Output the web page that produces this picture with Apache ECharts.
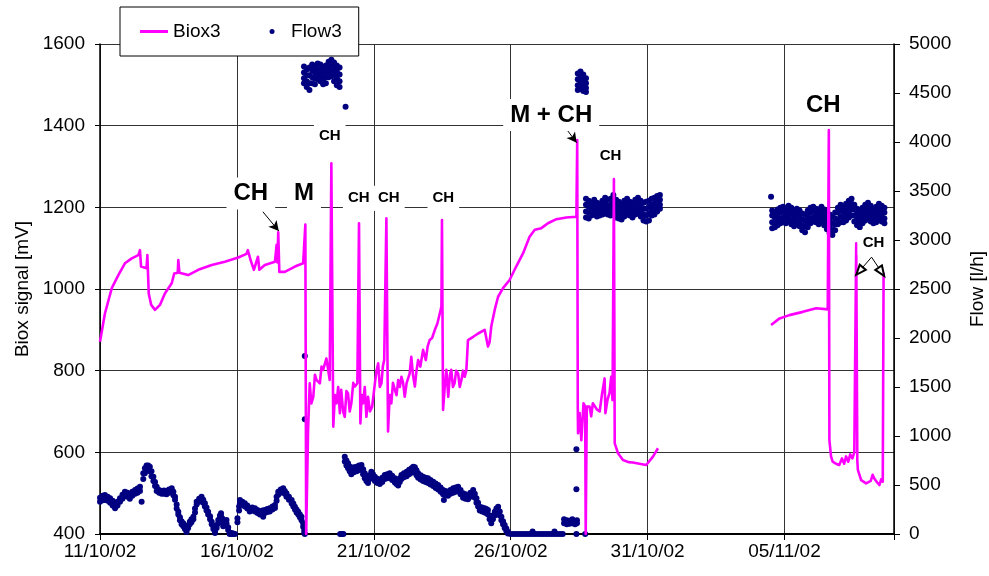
<!DOCTYPE html>
<html>
<head>
<meta charset="utf-8">
<title>Biox3 / Flow3</title>
<script src="https://cdn.jsdelivr.net/npm/echarts@6/dist/echarts.min.js"></script>
<style>
    html, body { margin: 0; padding: 0; background: #fff; }
    #chart { width: 989px; height: 576px; }
</style>
</head>
<body>
<div id="chart"></div>
<script>
// x values are days counted from 11/10/02 00:00
var dateLabels = ['11/10/02', '16/10/02', '21/10/02', '26/10/02', '31/10/02', '05/11/02'];

// Biox3 signal [mV], first measuring period
var bioxPart1 = [
    [0,871],[0.18,940],[0.43,1002],[0.67,1034],[0.91,1063],[1.16,1075],[1.40,1083],[1.46,1095],[1.50,1055],[1.70,1051],
    [1.73,1083],[1.78,989],[1.87,961],[2.01,949],[2.19,961],[2.37,989],[2.62,1014],[2.71,1038],[2.84,1040],[2.86,1071],
    [2.90,1040],[3.22,1034],[3.59,1047],[4.08,1059],[4.56,1067],[5.05,1077],[5.35,1086],[5.40,1095],[5.50,1071],[5.62,1047],
    [5.77,1079],[5.82,1047],[6.02,1059],[6.39,1067],[6.45,1108],[6.48,1065],[6.51,1139],[6.55,1042],[6.75,1042],[7.12,1055],
    [7.42,1063],[7.48,1063],[7.50,1158],[7.53,400],[7.56,400],[7.60,654],[7.66,769],[7.72,720],[7.79,736],[7.85,790],
    [7.91,777],[8.03,769],[8.09,810],[8.15,802],[8.27,830],[8.33,834],[8.39,777],[8.45,1308],[8.52,663],[8.58,740],
    [8.64,720],[8.70,760],[8.76,696],[8.81,753],[8.88,700],[8.94,687],[9.00,750],[9.06,744],[9.12,700],[9.18,720],
    [9.25,770],[9.31,761],[9.40,769],[9.46,1161],[9.51,671],[9.56,740],[9.61,720],[9.67,760],[9.73,687],[9.79,736],
    [9.86,700],[9.94,712],[10.04,769],[10.10,800],[10.16,818],[10.22,760],[10.28,769],[10.33,810],[10.38,826],[10.46,1173],
    [10.52,651],[10.58,740],[10.64,720],[10.70,770],[10.77,753],[10.83,740],[10.89,777],[10.95,760],[11.01,785],[11.07,770],
    [11.13,736],[11.20,770],[11.31,793],[11.37,834],[11.43,790],[11.50,761],[11.56,800],[11.62,826],[11.70,810],[11.80,851],
    [11.90,826],[11.97,860],[12.04,875],[12.13,880],[12.23,900],[12.32,915],[12.41,940],[12.47,957],[12.49,1169],[12.53,704],
    [12.59,760],[12.65,802],[12.72,736],[12.78,790],[12.83,802],[12.89,760],[12.95,769],[13.01,800],[13.08,793],[13.14,760],
    [13.20,777],[13.26,800],[13.32,785],[13.38,800],[13.44,875],[13.63,883],[13.81,891],[14.05,900],[14.12,898],[14.17,859],
    [14.23,870],[14.29,908],[14.42,950],[14.54,981],[14.72,1002],[14.96,1022],[15.20,1055],[15.45,1087],[15.69,1128],[15.88,1145],
    [16.12,1149],[16.36,1161],[16.67,1171],[17.03,1175],[17.40,1177],[17.43,1365],[17.45,712],[17.46,647],[17.52,696],[17.58,630],
    [17.66,720],[17.72,712],[17.74,400],[17.76,400],[17.78,712],[17.88,712],[17.94,688],[18.00,720],[18.07,724],[18.15,705],
    [18.25,700],[18.33,740],[18.43,781],[18.46,696],[18.54,730],[18.61,745],[18.67,785],[18.72,728],[18.77,1269],[18.80,622],
    [18.92,598],[19.10,581],[19.30,576],[19.46,575],[19.70,572],[19.95,569],[20.19,589],[20.38,610]
];

// Biox3 signal [mV], second measuring period
var bioxPart2 = [
    [24.51,912],[24.82,928],[25.18,936],[25.67,944],[26.16,953],[26.58,950],[26.62,1389],[26.64,630],[26.70,590],[26.76,577],
    [26.88,572],[27.00,569],[27.10,585],[27.18,572],[27.25,590],[27.33,577],[27.40,595],[27.48,585],[27.55,600],[27.62,1112],
    [27.66,580],[27.68,557],[27.80,532],[27.98,524],[28.15,530],[28.22,545],[28.28,536],[28.40,525],[28.47,520],[28.53,534],
    [28.59,528],[28.62,1040]
];

// Flow3 [l/h]: each row is [day, reading, reading, ...]
var flowRowsLow1 = [
    [0.00,370,330],[0.10,390,345],[0.18,398,347],[0.28,380,340],[0.37,364,320],[0.46,340,290],[0.55,296,262],[0.64,330,290],
    [0.73,364,330],[0.82,400,360],[0.91,432,390],[1.00,420,380],[1.09,398,360],[1.18,430,390],[1.28,449,410],[1.37,465,420],
    [1.46,483,440],[1.52,330],[1.58,619,560],[1.64,670,620],[1.70,700,650],[1.76,700,660],[1.82,687,640],[1.88,640,590],
    [1.95,585,540],[2.01,530,490],[2.07,483,440],[2.16,450,420],[2.25,440,410],[2.34,445,410],[2.43,440,405],[2.52,455,420],
    [2.62,466,430],[2.68,430,395],[2.74,381,350],[2.80,300,260],[2.86,228,200],[2.92,170,140],[2.98,130,100],[3.04,109,80],
    [3.10,75,50],[3.16,41,20],[3.22,90,60],[3.28,126,100],[3.34,150,120],[3.41,177,150],[3.47,260,220],[3.53,330,300],
    [3.62,360,330],[3.71,381,350],[3.77,350,320],[3.83,313,280],[3.89,270,240],[3.95,228,200],[4.02,180,150],[4.08,126,100],
    [4.14,80,50],[4.20,24,10],[4.26,90,60],[4.32,143,110],[4.38,190,160],[4.42,211,180],[4.46,160,130],[4.50,109,80],
    [4.56,130,100],[4.62,143,110],[4.68,70,40],[4.74,7,0],[4.80,10,0],[4.87,5,0],[4.93,0],[5.02,160,120],
    [5.08,280,240],[5.11,347,310],[5.20,330,300],[5.29,313,280],[5.38,290,260],[5.47,262,230],[5.56,270,240],[5.66,262,230],
    [5.75,245,215],[5.84,228,200],[5.93,240,210],[5.96,177],[6.02,245,215],[6.11,255,225],[6.20,262,230],[6.30,280,250],
    [6.39,296,265],[6.45,380,340],[6.51,432,400],[6.60,455,420],[6.69,466,430],[6.75,440,410],[6.81,415,380],[6.90,380,350],
    [7.00,347,310],[7.06,310,280],[7.12,279,250],[7.18,250,220],[7.24,228,200],[7.30,200,170],[7.36,177,140],[7.42,110,75],
    [7.46,40,14],[7.48,1816,1170,0]
];

var flowRowsHigh1 = [
    [7.45,4770,4710,4650,4600],[7.55,4740,4680,4620,4560],[7.65,4760,4680,4600,4530],[7.75,4790,4730,4660,4600],
    [7.85,4770,4710,4650,4590],[7.95,4800,4740,4690,4640],[8.05,4790,4730,4670,4620],[8.15,4760,4700,4640,4590],
    [8.25,4780,4720,4660,4600],[8.35,4820,4760,4710,4660],[8.45,4840,4780,4720,4670],[8.55,4810,4740,4680,4620],
    [8.65,4780,4720,4650,4580],[8.75,4760,4690,4620,4560],[8.97,4360]
];

var flowRowsLow2 = [
    [8.77,0],[8.83,0],[8.89,0],
    [8.94,789,740],[9.00,750,700],[9.06,721,670],[9.12,690,640],[9.18,653,610],[9.27,680,630],[9.37,687,640],[9.46,700,650],
    [9.55,704,660],[9.61,660,610],[9.67,619,570],[9.73,590,540],[9.79,568,520],[9.85,600,560],[9.91,636,590],[9.97,610,570],
    [10.04,585,540],[10.13,565,520],[10.22,551,510],[10.31,575,530],[10.40,602,560],[10.49,610,570],[10.58,619,575],[10.67,595,550],
    [10.77,568,525],[10.83,550,510],[10.89,534,495],[10.95,570,530],[11.01,602,560],[11.10,620,580],[11.20,636,590],[11.29,655,610],
    [11.38,670,625],[11.44,687,640],[11.50,680,630],[11.56,650,600],[11.62,619,575],[11.71,600,555],[11.80,585,540],[11.89,575,530],
    [11.98,568,520],[12.07,550,505],[12.17,534,490],[12.26,515,470],[12.35,500,455],[12.44,475,430],[12.53,449,405],[12.56,347],
    [12.62,440,400],[12.71,432,390],[12.80,450,410],[12.90,466,420],[12.99,475,430],[13.08,483,440],[13.17,450,405],[13.26,415,370],
    [13.35,405,360],[13.44,398,355],[13.53,420,380],[13.63,449,410],[13.69,410,370],[13.75,364,320],[13.81,320,280],[13.87,279,240],
    [13.96,270,230],[14.05,262,220],[14.11,255,215],[14.17,245,200],[14.23,190,150],[14.29,143,110],[14.35,190,150],[14.42,228,190],
    [14.48,260,220],[14.54,279,240],[14.60,230,190],[14.66,177,140],[14.72,130,100],[14.78,92,60],[14.84,55,30],[14.90,24,5],
    [15.0,0],[15.1,0],[15.2,0],[15.3,0],[15.4,0],[15.5,0],[15.6,0],[15.7,0],[15.8,25,0],[15.9,0],
    [16.0,0],[16.1,0],[16.2,0],[16.3,0],[16.4,0],[16.5,0],[16.6,25,0],[16.7,0],[16.8,0],[16.9,0],
    [16.95,150,110],[17.05,140,100],[17.15,135,105],[17.25,150,110],[17.35,130,100],[17.40,864,456,0],[17.42,140,110],[17.72,0]
];

var flowRowsHigh2 = [
    [17.45,4700,4640,4580,4530],[17.55,4720,4660,4600,4540],[17.65,4690,4630,4570,4520],[17.75,4650,4600,4550,4510]
];

var flowRowsMid1 = [
    [17.75,3420,3360,3290,3230],[17.85,3400,3340,3280,3220],[17.95,3380,3330,3290,3250],[18.05,3410,3350,3300,3260],
    [18.15,3380,3330,3280,3240],[18.25,3370,3320,3280,3250],[18.35,3400,3340,3300,3260],[18.45,3430,3370,3320,3270],
    [18.55,3410,3350,3300,3260],[18.65,3420,3360,3300,3250],[18.75,3460,3390,3330,3280],[18.85,3410,3350,3290,3230],
    [18.95,3390,3330,3270,3220],[19.05,3370,3320,3260,3210],[19.15,3400,3340,3290,3240],[19.25,3420,3360,3310,3260],
    [19.35,3390,3340,3290,3250],[19.45,3380,3320,3270,3230],[19.55,3410,3350,3300,3260],[19.65,3430,3370,3320,3270],
    [19.75,3400,3340,3290,3240],[19.85,3380,3320,3260,3200],[19.95,3390,3320,3250,3190],[20.05,3400,3340,3270,3200],
    [20.15,3420,3360,3300,3250],[20.25,3430,3370,3310,3260],[20.35,3450,3400,3340,3290],[20.45,3460,3410,3360,3320]
];

var flowRowsMid2 = [
    [24.51,3442],
    [24.55,3300,3250,3180,3120],[24.65,3280,3230,3170,3130],[24.75,3310,3260,3200,3150],[24.85,3330,3280,3220,3170],
    [24.95,3340,3290,3230,3180],[25.05,3320,3270,3220,3170],[25.15,3350,3300,3240,3190],[25.25,3330,3280,3210,3160],
    [25.35,3300,3250,3190,3140],[25.45,3320,3270,3210,3160],[25.55,3300,3250,3190,3140],[25.65,3270,3210,3150,3100],
    [25.75,3260,3200,3140,3080],[25.85,3300,3240,3180,3130],[25.95,3330,3280,3220,3170],[26.05,3340,3290,3230,3190],
    [26.15,3320,3270,3220,3180],[26.25,3310,3260,3210,3160],[26.35,3340,3290,3230,3180],[26.45,3310,3260,3200,3150],
    [26.55,3290,3230,3170,3110],[26.65,3260,3200,3130,3070],[26.75,3240,3170,3110,3050],[26.85,3280,3220,3160,3100],
    [26.95,3330,3280,3210,3160],[27.05,3360,3300,3240,3180],[27.15,3340,3290,3230,3180],[27.25,3370,3320,3260,3200],
    [27.35,3400,3350,3290,3230],[27.45,3420,3370,3310,3250],[27.55,3360,3310,3250,3190],[27.65,3320,3270,3210,3150],
    [27.75,3300,3240,3180,3130],[27.85,3330,3280,3220,3170],[27.95,3360,3310,3250,3200],[28.05,3380,3330,3270,3220],
    [28.15,3350,3300,3240,3190],[28.25,3320,3270,3220,3170],[28.35,3340,3290,3230,3180],[28.45,3370,3320,3260,3210],
    [28.55,3350,3300,3240,3190],[28.65,3330,3280,3220,3170]
];

// annotations, placed in (day, mV)
var noteText = ['CH', 'M', 'CH', 'CH', 'CH', 'CH', 'M + CH', 'CH', 'CH', 'CH'];
var noteDay  = [5.51, 7.45, 8.39, 9.45, 10.55, 12.54, 16.48, 18.65, 26.42, 28.25];
var noteMv   = [1234, 1234, 1375, 1222, 1222, 1222, 1426, 1327, 1449, 1114];
var noteBig  = [1, 1, 0, 0, 0, 0, 1, 0, 1, 0];

var arrowFrom = [[5.95, 1189], [17.01, 1394], [28.18, 1078], [28.18, 1078]];
var arrowTo   = [[6.53, 1142], [17.41, 1358], [27.74, 1044], [28.54, 1042]];
var arrowOpen = [0, 0, 1, 1];

var FONT = "'Liberation Sans', Arial, sans-serif";

function toPoints(rows) {
    var pts = [];
    rows.forEach(function (row) {
        for (var i = 1; i < row.length; i++) {
            pts.push([row[0], row[i]]);
        }
    });
    return pts;
}

var flowPoints = [].concat(
    toPoints(flowRowsLow1), toPoints(flowRowsHigh1), toPoints(flowRowsLow2),
    toPoints(flowRowsHigh2), toPoints(flowRowsMid1), toPoints(flowRowsMid2)
);

var notes = noteText.map(function (t, i) {
    var big = noteBig[i] === 1;
    return {
        name: t,
        coord: [noteDay[i], noteMv[i]],
        label: {
            fontSize: big ? 24 : 15,
            padding: big ? [4, 7] : [5, 5]
        }
    };
});

var arrows = arrowFrom.map(function (from, i) {
    var open = arrowOpen[i] === 1;
    return [
        { coord: from, symbol: 'none' },
        { coord: arrowTo[i], symbol: open ? 'emptyTriangle' : 'arrow', symbolSize: [8, 10] }
    ];
});

function plainNumber(v) {
    return String(v);
}

var bioxLine = {
    name: 'Biox3',
    type: 'line',
    yAxisIndex: 0,
    symbol: 'none',
    z: 3,
    lineStyle: { color: '#ff00ff', width: 2.6, join: 'round' },
    itemStyle: { color: '#ff00ff' }
};

var chart = echarts.init(document.getElementById('chart'));
chart.setOption({
    animation: false,
    backgroundColor: '#fff',
    textStyle: { fontFamily: FONT, color: '#000' },
    grid: { left: 100, right: 95, top: 44, bottom: 42, outerBoundsMode: 'none', containLabel: false },
    legend: {
        data: [
            { name: 'Biox3', icon: 'path://M0,0H28V3H0Z' },
            { name: 'Flow3', icon: 'circle' }
        ],
        left: 120,
        top: 7,
        backgroundColor: '#fff',
        borderColor: '#000',
        borderWidth: 1,
        padding: [14, 17, 14, 20],
        itemWidth: 28,
        itemHeight: 5,
        itemGap: 49,
        textStyle: { fontSize: 19, color: '#000', fontFamily: FONT, lineHeight: 21 }
    },
    xAxis: {
        type: 'value',
        min: 0,
        max: 29,
        interval: 5,
        axisLine: { lineStyle: { color: '#000', width: 2 } },
        axisTick: { length: 6, lineStyle: { color: '#000' } },
        axisLabel: {
            fontSize: 19, color: '#000', margin: 8, fontFamily: FONT,
            formatter: function (v) {
                var i = Math.round(v / 5);
                return (Math.abs(v / 5 - i) < 1e-6 && dateLabels[i]) ? dateLabels[i] : '';
            }
        },
        splitLine: { show: true, lineStyle: { color: '#333', width: 1 } }
    },
    yAxis: [{
        type: 'value',
        min: 400,
        max: 1600,
        interval: 200,
        name: 'Biox signal [mV]',
        nameLocation: 'middle',
        nameRotate: 90,
        nameGap: 55,
        nameTextStyle: { fontSize: 19, color: '#000', fontFamily: FONT },
        axisLine: { show: true, lineStyle: { color: '#000', width: 1.5 } },
        axisTick: { show: true, length: 5, lineStyle: { color: '#000' } },
        axisLabel: { fontSize: 19, color: '#000', margin: 15, fontFamily: FONT, formatter: plainNumber },
        splitLine: { show: true, lineStyle: { color: '#333', width: 1 } }
    }, {
        type: 'value',
        min: 0,
        max: 5000,
        interval: 500,
        name: 'Flow [l/h]',
        nameLocation: 'middle',
        nameRotate: 90,
        nameGap: 74,
        nameTextStyle: { fontSize: 19, color: '#000', fontFamily: FONT },
        axisLine: { show: true, lineStyle: { color: '#000', width: 1.5 } },
        axisTick: { show: true, length: 6, lineStyle: { color: '#000' } },
        axisLabel: { fontSize: 19, color: '#000', margin: 15, fontFamily: FONT, formatter: plainNumber },
        splitLine: { show: false }
    }],
    series: [{
        name: 'Flow3',
        type: 'scatter',
        yAxisIndex: 1,
        data: flowPoints,
        symbol: 'circle',
        symbolSize: 6,
        z: 2,
        itemStyle: { color: '#000080', opacity: 1 }
    }, Object.assign({}, bioxLine, {
        data: bioxPart1,
        markPoint: {
            silent: true,
            symbol: 'rect',
            symbolSize: 1,
            itemStyle: { color: 'rgba(0,0,0,0)' },
            label: {
                show: true,
                position: 'inside',
                formatter: '{b}',
                color: '#000',
                fontWeight: 'bold',
                fontFamily: FONT,
                backgroundColor: '#fff'
            },
            data: notes
        },
        markLine: {
            silent: true,
            symbol: ['none', 'arrow'],
            label: { show: false },
            lineStyle: { color: '#000', width: 1, type: 'solid' },
            emphasis: { disabled: true },
            data: arrows
        }
    }), Object.assign({}, bioxLine, {
        data: bioxPart2
    })]
});
</script>
</body>
</html>
